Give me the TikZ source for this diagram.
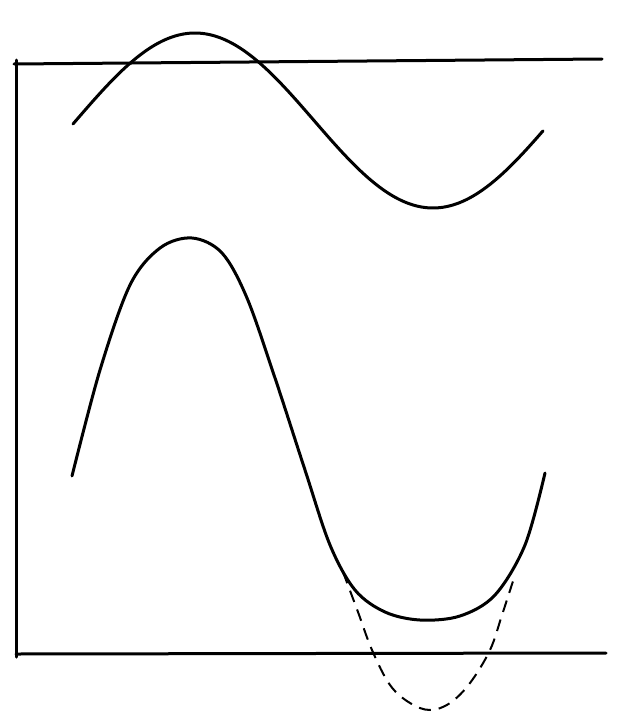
\documentclass[tikz,border=0pt]{standalone}
\begin{document}
\begin{tikzpicture}[x=1pt,y=-1pt,
  ink/.style={line width=3pt,line cap=round,line join=round},
  dashink/.style={line width=2pt,dash pattern=on 12pt off 8pt}]
\useasboundingbox (0,0) rectangle (618,723);
\fill[white] (0,0) rectangle (618,723);
\coordinate (axtop) at (16,60);
\coordinate (axbot) at (16,657);
\coordinate (tl) at (14,64);
\coordinate (tr) at (602,59);
\coordinate (bl) at (16,654);
\coordinate (br) at (606,653);
\draw[ink] (axtop) -- (axbot);
\draw[ink] (tl) -- (tr);
\draw[ink] (bl) -- (br);
% upper wave
\draw[ink] plot[domain=73:543,samples=90,smooth] (\x,{120.5-87.5*cos(0.7563*(\x-195))});
% lower wave
\draw[ink] plot[smooth,tension=0.55] coordinates {(72,476) (100,370) (130,285) (160,248) (192,238) (222,253) (247,298) (275,378) (305,470) (330,545) (355,590) (385,612) (420,620) (460,616) (495,595) (525,545) (545,473)};
% dashed continuation
\draw[dashink] plot[smooth,tension=0.6] coordinates {(343,572) (358,612) (372,650) (390,685) (410,703) (430,710) (450,703) (470,683) (490,650) (502,615) (514,578)};
\end{tikzpicture}
\end{document}
